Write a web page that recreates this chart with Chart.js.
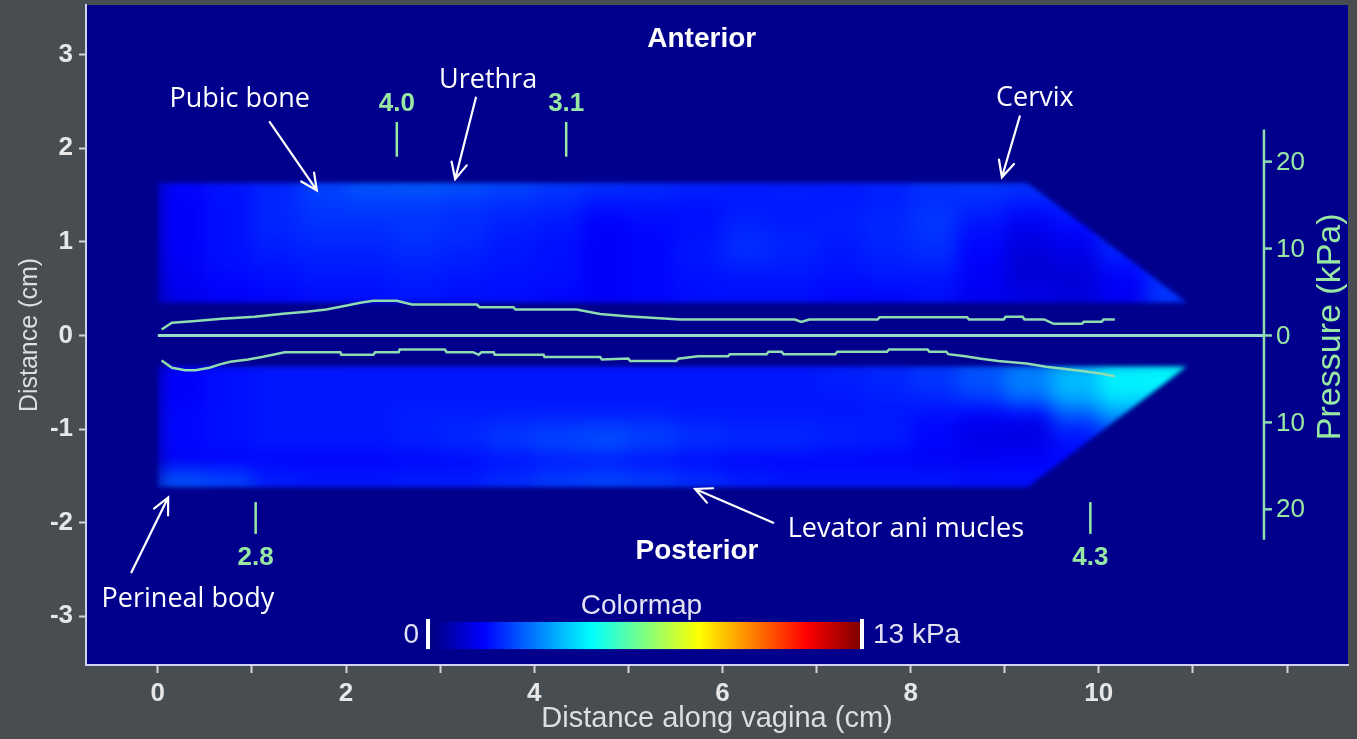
<!doctype html>
<html>
<head>
<meta charset="utf-8">
<title>Vaginal pressure map</title>
<script src="https://cdn.jsdelivr.net/npm/chart.js@4.4.1/dist/chart.umd.min.js"></script>
<style>
  html, body { margin: 0; padding: 0; background: #474d51; }
  #wrap { position: relative; width: 1357px; height: 739px; }
</style>
</head>
<body>
<div id="wrap"><canvas id="map"></canvas></div>
<script>
// ---- values ----
const colorMax = 13; // kPa at the red end of the colormap
const xTicks = [0, 1, 2, 3, 4, 5, 6, 7, 8, 9, 10, 11, 12];
const yTicks = [-3, -2, -1, 0, 1, 2, 3];
const pressureTicks = [20, 10, 0, -10, -20];

// heat map: 0.5 cm columns, 8 rows per wall
const cellStarts = [0, 0.5, 1, 1.5, 2, 2.5, 3, 3.5, 4, 4.5, 5, 5.5, 6, 6.5, 7, 7.5, 8, 8.5, 9, 9.5, 10, 10.5];
const bandEnd = 11.0;

const anteriorRows = [1.585, 1.415, 1.245, 1.075, 0.905, 0.735, 0.565, 0.395];
const anteriorOutline = [[0, 1.63], [9.24, 1.63], [10.94, 0.35], [0, 0.35]];
const anteriorMap = [
  [1.7, 1.9, 2.1, 2.5, 2.8, 2.9, 2.8, 2.6, 2.4, 2.3, 2.2, 2.1, 2.0, 2.0, 2.0, 2.1, 2.3, 2.4, 2.3, 2.2, 2.2, 2.2],
  [1.6, 1.8, 2.1, 2.4, 2.5, 2.5, 2.4, 2.3, 2.2, 2.0, 2.0, 1.9, 1.9, 2.0, 1.9, 2.0, 2.2, 2.2, 2.1, 2.1, 2.2, 2.2],
  [1.6, 1.8, 2.1, 2.3, 2.3, 2.3, 2.2, 2.1, 2.0, 1.7, 1.8, 1.8, 2.0, 1.9, 2.0, 2.1, 2.3, 2.0, 1.7, 1.9, 2.2, 2.2],
  [1.6, 1.8, 2.1, 2.2, 2.2, 2.3, 2.2, 2.0, 1.9, 1.6, 1.7, 1.8, 2.1, 2.0, 2.0, 2.1, 2.3, 1.8, 1.4, 1.7, 2.2, 2.2],
  [1.6, 1.8, 2.0, 2.1, 2.1, 2.2, 2.1, 1.9, 1.8, 1.6, 1.7, 1.9, 2.2, 2.1, 1.9, 2.1, 2.2, 1.7, 1.2, 1.4, 2.1, 2.2],
  [1.5, 1.8, 1.9, 2.0, 2.0, 2.1, 2.0, 1.9, 1.8, 1.6, 1.7, 1.9, 2.1, 2.0, 1.9, 2.0, 2.1, 1.6, 1.1, 1.2, 1.9, 2.2],
  [1.5, 1.7, 1.8, 1.9, 1.9, 2.0, 1.9, 1.8, 1.8, 1.6, 1.7, 1.8, 1.9, 1.9, 1.8, 1.9, 1.9, 1.5, 1.1, 1.1, 1.6, 2.2],
  [1.4, 1.6, 1.7, 1.8, 1.8, 1.9, 1.8, 1.8, 1.7, 1.6, 1.7, 1.8, 1.8, 1.8, 1.7, 1.7, 1.8, 1.5, 1.3, 1.2, 1.5, 2.3]
];

const posteriorRows = [-0.38, -0.55, -0.72, -0.89, -1.06, -1.23, -1.40, -1.57];
const posteriorOutline = [[0, -0.33], [10.94, -0.33], [9.24, -1.62], [0, -1.62]];
const posteriorMap = [
  [1.6, 1.8, 1.9, 1.9, 1.9, 1.9, 1.9, 1.9, 1.9, 1.9, 1.9, 1.9, 1.9, 1.9, 2.0, 2.1, 2.3, 2.7, 3.2, 3.9, 4.6, 4.8],
  [1.6, 1.8, 1.9, 1.9, 1.9, 1.9, 1.9, 1.9, 1.9, 1.9, 1.9, 1.9, 1.9, 1.9, 2.0, 2.1, 2.3, 2.7, 3.3, 4.1, 4.8, 4.8],
  [1.6, 1.8, 1.9, 1.9, 1.9, 1.9, 1.9, 1.9, 1.9, 1.9, 1.9, 1.9, 1.9, 1.9, 1.9, 2.0, 2.1, 2.4, 3.0, 3.8, 4.5, 4.5],
  [1.7, 1.8, 1.9, 1.9, 1.9, 2.0, 2.0, 2.0, 2.0, 2.0, 2.0, 1.9, 1.9, 1.9, 1.9, 1.9, 1.8, 1.6, 1.7, 2.8, 3.6, 3.6],
  [1.7, 1.8, 1.9, 1.9, 1.9, 2.0, 2.1, 2.3, 2.4, 2.5, 2.4, 2.2, 2.1, 2.1, 2.0, 2.0, 1.7, 1.3, 1.2, 2.0, 2.6, 2.6],
  [1.7, 1.8, 1.9, 1.9, 1.9, 2.0, 2.1, 2.3, 2.5, 2.6, 2.4, 2.2, 2.1, 2.1, 2.0, 1.9, 1.7, 1.4, 1.4, 1.8, 2.0, 2.0],
  [1.5, 1.6, 1.6, 1.6, 1.6, 1.6, 1.7, 1.8, 1.9, 1.9, 1.8, 1.7, 1.6, 1.6, 1.6, 1.6, 1.5, 1.5, 1.6, 1.7, 1.7, 1.7],
  [2.7, 2.5, 2.0, 1.9, 1.9, 2.0, 2.0, 2.2, 2.4, 2.5, 2.4, 2.2, 2.0, 1.9, 1.9, 1.9, 1.9, 1.8, 1.8, 1.8, 1.8, 1.8]
];

// pressure profiles along the probe (kPa)
const anteriorX = [0.04, 0.15, 0.37, 0.68, 1.03, 1.33, 1.58, 1.79, 2.01, 2.15, 2.29, 2.54, 2.70, 3.39, 3.42, 3.78, 3.80, 4.45, 4.70, 4.98,
  5.55, 6.77, 6.84, 6.92, 7.65, 7.67, 8.60, 8.62, 8.99, 9.01, 9.19, 9.21, 9.42, 9.52, 9.82, 9.84, 10.03, 10.05, 10.17];
const anteriorKpa = [0.69, 1.46, 1.64, 1.92, 2.15, 2.49, 2.72, 2.99, 3.45, 3.76, 3.99, 3.99, 3.56, 3.56, 3.25, 3.25, 2.99, 2.99, 2.47, 2.22,
  1.84, 1.84, 1.57, 1.84, 1.84, 2.10, 2.10, 1.84, 1.84, 2.15, 2.15, 1.84, 1.84, 1.34, 1.34, 1.57, 1.57, 1.84, 1.84];
const posteriorX = [0.04, 0.15, 0.29, 0.40, 0.55, 0.66, 0.77, 0.96, 1.12, 1.35, 1.94, 1.95, 2.29, 2.31, 2.56, 2.57, 3.05, 3.07, 3.35, 3.41,
  3.44, 3.57, 3.58, 4.10, 4.11, 4.70, 4.72, 5.00, 5.02, 5.51, 5.53, 5.74, 6.06, 6.08, 6.47, 6.49, 6.63, 6.65, 7.20, 7.22,
  7.75, 7.77, 8.18, 8.20, 8.38, 8.40, 8.58, 8.73, 8.93, 9.23, 9.44, 9.62, 9.82, 10.03, 10.17];
const posteriorKpa = [2.87, 3.71, 3.99, 3.99, 3.71, 3.33, 3.02, 2.76, 2.45, 1.92, 1.92, 2.22, 2.22, 1.92, 1.92, 1.61, 1.61, 1.92, 1.92, 2.22,
  1.92, 1.92, 2.22, 2.22, 2.49, 2.49, 2.76, 2.64, 2.95, 2.95, 2.68, 2.38, 2.38, 2.15, 2.15, 1.87, 1.87, 2.15, 2.15, 1.87,
  1.87, 1.61, 1.61, 1.87, 1.87, 2.15, 2.38, 2.64, 2.95, 3.22, 3.60, 3.83, 4.10, 4.40, 4.68];

// marked positions (cm) and their labels
const markerX = [2.54, 4.34, 1.04, 9.91];
const markerText = ['4.0', '3.1', '2.8', '4.3'];
const markerWall = ['ant', 'ant', 'post', 'post'];

// ---- layout / style ----
const xRange = [-0.763, 12.648];
const yRange = [-3.52, 3.53];
const cmPerKpa = 0.09285;          // pressure overlay scale
const pAxisX = 11.755;
const pAxisSpan = [-23.5, 23.7];
const plotBg = 'rgb(0,0,140)';
const green = '#8fdcb2';
const greenText = '#98e8a4';
const tickGray = '#e6e6e6';
const sans = '"Liberation Sans", Arial, sans-serif';
const noteFont = '"Open Sans", sans-serif';

function jet(v) {
  const t = Math.max(0, Math.min(1, v / colorMax));
  const ch = d => Math.round(255 * Math.max(0, Math.min(1, 1.5 - Math.abs(4 * t - d))));
  return 'rgb(' + ch(3) + ',' + ch(2) + ',' + ch(1) + ')';
}

// each cell bar runs to the end of the band; the next cell paints over it
function bandCells(centers, grid) {
  const out = [];
  centers.forEach((yc, r) => {
    cellStarts.forEach((x0, k) => out.push({ x: [x0, bandEnd], y: yc, v: grid[r][k] }));
  });
  return out;
}
const cells = bandCells(anteriorRows, anteriorMap).concat(bandCells(posteriorRows, posteriorMap));

const notes = [
  { text: 'Pubic bone', at: [0.87, 2.52], from: [1.19, 2.28], to: [1.69, 1.55] },
  { text: 'Urethra', at: [3.51, 2.73], from: [3.38, 2.54], to: [3.16, 1.67] },
  { text: 'Cervix', at: [9.32, 2.53], from: [9.16, 2.34], to: [8.97, 1.69] },
  { text: 'Levator ani mucles', at: [7.95, -2.07], from: [6.54, -2.0], to: [5.71, -1.64] },
  { text: 'Perineal body', at: [0.32, -2.82], from: [-0.28, -2.53], to: [0.11, -1.73] }
];

const bgPlugin = {
  id: 'plotBg',
  beforeDraw(chart) {
    const { ctx, chartArea: a } = chart;
    ctx.save();
    ctx.fillStyle = plotBg;
    ctx.fillRect(a.left, a.top, a.right - a.left, a.bottom - a.top);
    ctx.restore();
  }
};

// smooth the drawn cells and cut them to the probe outline
const softPlugin = {
  id: 'softMap',
  afterDatasetDraw(chart, args) {
    if (!chart.data.datasets[args.index].softEdge) return;
    const { ctx, canvas } = chart;
    const X = v => chart.scales.x.getPixelForValue(v), Y = v => chart.scales.y.getPixelForValue(v);
    const dpr = chart.currentDevicePixelRatio || 1;
    const l = Math.round(X(-0.4)), r = Math.round(X(11.4));
    const t = Math.round(Y(1.95)), b = Math.round(Y(-1.95));
    const w = r - l, h = b - t;
    const grab = () => {
      const c = document.createElement('canvas');
      c.width = w * dpr; c.height = h * dpr;
      c.getContext('2d').drawImage(canvas, l * dpr, t * dpr, w * dpr, h * dpr, 0, 0, w * dpr, h * dpr);
      return c;
    };
    const raw = grab();
    ctx.save();
    ctx.fillStyle = plotBg;
    ctx.fillRect(l, t, w, h);
    ctx.beginPath();
    [anteriorOutline, posteriorOutline].forEach(poly => {
      poly.forEach((p, i) => (i ? ctx.lineTo(X(p[0]), Y(p[1])) : ctx.moveTo(X(p[0]), Y(p[1]))));
      ctx.closePath();
    });
    ctx.clip();
    ctx.filter = 'blur(9px)';
    ctx.drawImage(raw, l, t, w, h);
    ctx.restore();

    const cut = grab();
    ctx.save();
    ctx.beginPath();
    ctx.rect(l, t, w, h);
    ctx.clip();
    ctx.filter = 'blur(2px)';
    ctx.drawImage(cut, l, t, w, h);
    ctx.restore();
  }
};

function arrow(ctx, x1, y1, x2, y2) {
  const a = Math.atan2(y2 - y1, x2 - x1), h = 18, w = 0.45;
  ctx.beginPath();
  ctx.moveTo(x1, y1);
  ctx.lineTo(x2, y2);
  ctx.moveTo(x2 - h * Math.cos(a - w), y2 - h * Math.sin(a - w));
  ctx.lineTo(x2, y2);
  ctx.lineTo(x2 - h * Math.cos(a + w), y2 - h * Math.sin(a + w));
  ctx.stroke();
}

const overlayPlugin = {
  id: 'overlay',
  afterDraw(chart) {
    const { ctx } = chart;
    const xs = chart.scales.x, ys = chart.scales.y, ps = chart.scales.p;
    const X = v => xs.getPixelForValue(v), Y = v => ys.getPixelForValue(v);
    ctx.save();

    // pressure axis
    const ax = X(pAxisX);
    ctx.strokeStyle = green;
    ctx.lineWidth = 2.5;
    ctx.beginPath();
    ctx.moveTo(ax, ps.getPixelForValue(pAxisSpan[0]));
    ctx.lineTo(ax, ps.getPixelForValue(pAxisSpan[1]));
    ctx.stroke();
    ctx.fillStyle = greenText;
    ctx.font = '26px ' + sans;
    ctx.textAlign = 'left';
    ctx.textBaseline = 'middle';
    pressureTicks.forEach(v => {
      const y = ps.getPixelForValue(v);
      ctx.beginPath();
      ctx.moveTo(ax, y);
      ctx.lineTo(ax + 8, y);
      ctx.stroke();
      ctx.fillText(String(Math.abs(v)), ax + 12, y + 1);
    });
    ctx.save();
    ctx.translate(ax + 67, ps.getPixelForValue(1));
    ctx.rotate(-Math.PI / 2);
    ctx.textAlign = 'center';
    ctx.font = '34px ' + sans;
    ctx.fillText('Pressure (kPa)', 0, 0);
    ctx.restore();

    // marker values
    ctx.font = 'bold 26px ' + sans;
    ctx.textAlign = 'center';
    markerX.forEach((mx, i) => {
      ctx.fillText(markerText[i], X(mx), Y(markerWall[i] === 'ant' ? 2.47 : -2.38));
    });

    // wall names
    ctx.fillStyle = '#ffffff';
    ctx.font = 'bold 28px ' + sans;
    ctx.fillText('Anterior', X(5.78), Y(3.16));
    ctx.fillText('Posterior', X(5.73), Y(-2.31));

    // anatomy notes
    ctx.font = '27px ' + noteFont;
    ctx.strokeStyle = '#ffffff';
    ctx.lineWidth = 2.2;
    ctx.lineCap = 'round';
    notes.forEach(n => {
      ctx.fillText(n.text, X(n.at[0]), Y(n.at[1]));
      arrow(ctx, X(n.from[0]), Y(n.from[1]), X(n.to[0]), Y(n.to[1]));
    });

    // colour bar
    const cx0 = X(2.893), cx1 = X(7.462), cy0 = Y(-3.06), cy1 = Y(-3.35);
    const g = ctx.createLinearGradient(cx0, 0, cx1, 0);
    for (let i = 0; i <= 40; i++) g.addColorStop(i / 40, jet(colorMax * i / 40));
    ctx.fillStyle = g;
    ctx.fillRect(cx0, cy0, cx1 - cx0, cy1 - cy0);
    ctx.strokeStyle = '#ffffff';
    ctx.lineWidth = 4;
    ctx.lineCap = 'butt';
    [cx0 - 2, cx1 + 2].forEach(x => {
      ctx.beginPath();
      ctx.moveTo(x, cy0 - 3);
      ctx.lineTo(x, cy1);
      ctx.stroke();
    });
    ctx.fillStyle = '#e2e2f2';
    ctx.font = '28px ' + sans;
    ctx.textAlign = 'right';
    ctx.fillText('0', cx0 - 11, (cy0 + cy1) / 2);
    ctx.textAlign = 'left';
    ctx.fillText('13 kPa', cx1 + 13, (cy0 + cy1) / 2);
    ctx.textAlign = 'center';
    ctx.fillText('Colormap', X(5.14), Y(-2.89));
    ctx.restore();
  }
};

const profileLine = (xsArr, ks, sign) => xsArr.map((x, i) => ({ x: x, y: sign * ks[i] }));

const datasets = [
  {
    type: 'line', label: 'Anterior pressure', data: profileLine(anteriorX, anteriorKpa, 1),
    yAxisID: 'p', borderColor: green, borderWidth: 2.5, pointRadius: 0, tension: 0, order: 1
  },
  {
    type: 'line', label: 'Posterior pressure', data: profileLine(posteriorX, posteriorKpa, -1),
    yAxisID: 'p', borderColor: green, borderWidth: 2.5, pointRadius: 0, tension: 0, order: 1
  },
  {
    type: 'line', label: 'zero', data: [{ x: 0, y: 0 }, { x: pAxisX, y: 0 }],
    yAxisID: 'p', borderColor: '#96dcc8', borderWidth: 3, pointRadius: 0, order: 1
  }
].concat(markerX.map((mx, i) => ({
  type: 'line', label: markerText[i],
  data: markerWall[i] === 'ant' ? [{ x: mx, y: 1.91 }, { x: mx, y: 2.28 }] : [{ x: mx, y: -2.12 }, { x: mx, y: -1.78 }],
  yAxisID: 'y', borderColor: greenText, borderWidth: 2.5, pointRadius: 0, order: 1
}))).concat([{
  type: 'bar', label: 'Pressure map', indexAxis: 'y', data: cells, softEdge: true,
  backgroundColor: cells.map(c => jet(c.v)), borderWidth: 0,
  barPercentage: 1.6, categoryPercentage: 1, grouped: false,
  xAxisID: 'x', yAxisID: 'y', order: 5
}]);

new Chart(document.getElementById('map'), {
  type: 'line',
  data: { datasets: datasets },
  options: {
    responsive: true,
    maintainAspectRatio: false,
    animation: false,
    layout: { padding: { top: 5, right: 9, left: 0, bottom: 0 } },
    plugins: { legend: { display: false }, tooltip: { enabled: false } },
    scales: {
      x: {
        type: 'linear', min: xRange[0], max: xRange[1], offset: false,
        afterBuildTicks: s => { s.ticks = xTicks.map(v => ({ value: v })); },
        afterFit: s => { s.height = 74; s.paddingLeft = 0; s.paddingRight = 0; },
        ticks: {
          autoSkip: false, maxRotation: 0, padding: 5, color: tickGray,
          font: { family: sans, size: 26, weight: 'bold' },
          callback: v => (v % 2 === 0 && v <= 10 ? String(v) : '')
        },
        grid: { offset: false, drawOnChartArea: false, tickLength: 8, tickColor: '#d4d4d4', tickWidth: 2 },
        border: { display: true, color: '#cfd2ee', width: 2 },
        title: {
          display: true, text: 'Distance along vagina (cm)', color: '#dedede',
          font: { family: sans, size: 29 }, padding: { top: 0, bottom: 3 }
        }
      },
      y: {
        type: 'linear', min: yRange[0], max: yRange[1], offset: false,
        afterBuildTicks: s => { s.ticks = yTicks.map(v => ({ value: v })); },
        afterFit: s => { s.width = 86; s.paddingTop = 0; s.paddingBottom = 0; },
        ticks: {
          padding: 6, color: tickGray,
          font: { family: sans, size: 26, weight: 'bold' }
        },
        grid: { offset: false, drawOnChartArea: false, tickLength: 7, tickColor: '#d4d4d4', tickWidth: 2 },
        border: { display: true, color: '#cfd2ee', width: 2 },
        title: {
          display: true, text: 'Distance (cm)', color: '#dedede',
          font: { family: sans, size: 25 }, padding: { top: 15, bottom: 0 }
        }
      },
      p: {
        type: 'linear', axis: 'y', position: 'right', display: false,
        min: yRange[0] / cmPerKpa, max: yRange[1] / cmPerKpa
      }
    }
  },
  plugins: [bgPlugin, softPlugin, overlayPlugin]
});
</script>
</body>
</html>
